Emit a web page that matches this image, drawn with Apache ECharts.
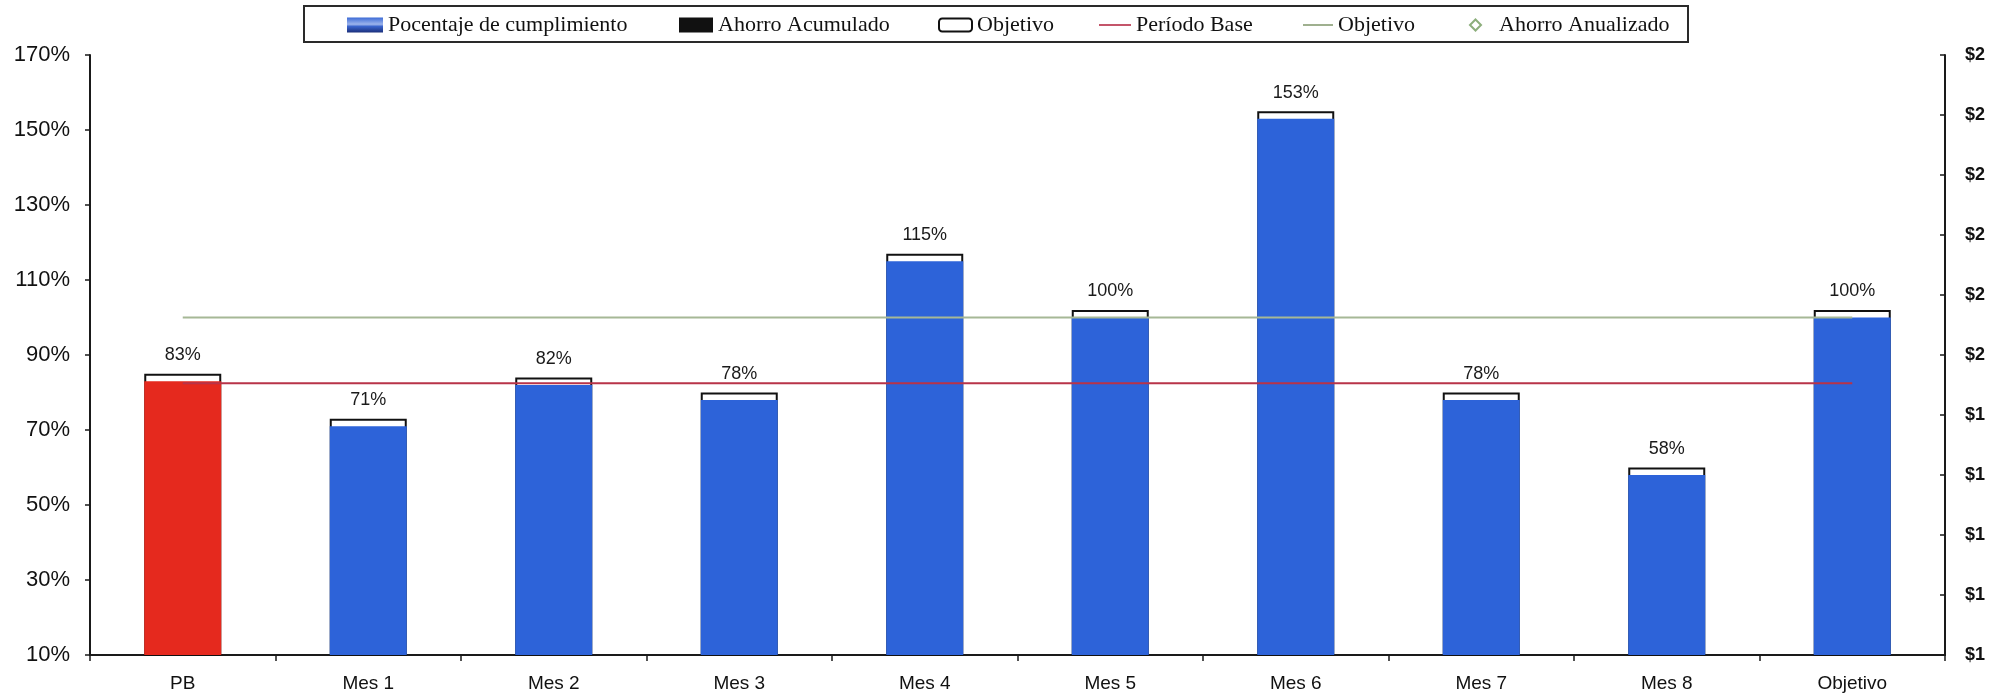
<!DOCTYPE html>
<html>
<head>
<meta charset="utf-8">
<title>Pocentaje de cumplimiento</title>
<script src="https://cdn.jsdelivr.net/npm/echarts@6/dist/echarts.min.js"></script>
<style>
  html, body { margin: 0; padding: 0; background: #ffffff; }
  #chart { width: 2004px; height: 696px; }
</style>
</head>
<body>
<div id="chart"></div>
<script>
// Categories along the x axis
const categories = ['PB', 'Mes 1', 'Mes 2', 'Mes 3', 'Mes 4', 'Mes 5', 'Mes 6', 'Mes 7', 'Mes 8', 'Objetivo'];

// Compliance percentage per period (bar values, also the printed labels)
const cumplimiento = [83, 71, 82, 78, 115, 100, 153, 78, 58, 100];

// Outlined target box drawn behind each bar
const objetivoCaja = [85, 73, 84, 80, 117, 102, 155, 80, 60, 102];

// Reference lines
const periodoBase = [82.5, 82.5, 82.5, 82.5, 82.5, 82.5, 82.5, 82.5, 82.5, 82.5];
const objetivoLinea = [100, 100, 100, 100, 100, 100, 100, 100, 100, 100];

// Savings series (no points in this period)
const ahorroAcumulado = [];
const ahorroAnualizado = [];

// Left axis range (percent) and right axis range (currency)
const pctAxis = { min: 10, max: 170, step: 20 };
const moneyAxis = { min: 1, max: 2, step: 0.1 };

const sans = 'Liberation Sans, Arial, sans-serif';
const serif = 'Liberation Serif, Times New Roman, serif';
const blue = '#2d63d9';
const red = '#e5291e';

const chart = echarts.init(document.getElementById('chart'), null, { renderer: 'canvas' });

const legendText = { fontFamily: serif, fontSize: 22, color: '#111' };
function legendAt(left, item, w, h, extra) {
  return Object.assign({
    left: left, top: 14, orient: 'horizontal', padding: 0,
    itemWidth: w, itemHeight: h, itemGap: 0,
    textStyle: legendText,
    data: [item],
    selectedMode: false
  }, extra || {});
}

chart.setOption({
  backgroundColor: '#ffffff',
  animation: false,
  graphic: [{
    type: 'rect',
    shape: { x: 304, y: 6, width: 1384, height: 36 },
    style: { fill: 'none', stroke: '#2a2a2a', lineWidth: 2 },
    z: 100
  }],
  legend: [
    legendAt(347, {
      name: 'Pocentaje de cumplimiento',
      icon: 'rect',
      itemStyle: {
        color: new echarts.graphic.LinearGradient(0, 0, 0, 1, [
          { offset: 0, color: '#3c6bd6' },
          { offset: 0.45, color: '#9db4ec' },
          { offset: 0.6, color: '#3a64cc' },
          { offset: 1, color: '#1b2f7a' }
        ]),
        borderWidth: 0
      }
    }, 36, 15),
    legendAt(679, { name: 'Ahorro Acumulado', icon: 'rect' }, 34, 15),
    legendAt(938, {
      name: 'Objetivo', icon: 'roundRect',
      itemStyle: { color: '#ffffff', borderColor: '#111', borderWidth: 2 }
    }, 33, 13),
    legendAt(1099, { name: 'Período Base', icon: 'rect', itemStyle: { color: '#c4556a' } }, 32, 2),
    legendAt(1303, { name: 'Objetivo ', icon: 'rect', itemStyle: { color: '#9fb08f' } }, 30, 2, {
      formatter: function (n) { return n.trim(); }
    }),
    legendAt(1469, { name: 'Ahorro Anualizado', icon: 'emptyDiamond' }, 11, 11, {
      textStyle: Object.assign({}, legendText, { padding: [0, 0, 0, 13] })
    })
  ],
  grid: { left: 90, right: 59, top: 55, bottom: 41, containLabel: false },
  xAxis: {
    type: 'category',
    data: categories,
    boundaryGap: true,
    axisLine: { show: true, lineStyle: { color: '#1a1a1a', width: 2 } },
    axisTick: { show: true, inside: false, length: 6, lineStyle: { color: '#1a1a1a', width: 1.5 } },
    axisLabel: { fontFamily: sans, fontSize: 19, color: '#111', margin: 19 },
    splitLine: { show: false }
  },
  yAxis: [{
    type: 'value',
    position: 'left',
    min: pctAxis.min, max: pctAxis.max, interval: pctAxis.step,
    axisLine: { show: true, lineStyle: { color: '#1a1a1a', width: 2 } },
    axisTick: { show: true, inside: false, length: 5, lineStyle: { color: '#1a1a1a', width: 1.5 } },
    axisLabel: { fontFamily: sans, fontSize: 22, color: '#111', margin: 20, formatter: '{value}%' },
    splitLine: { show: false }
  }, {
    type: 'value',
    position: 'right',
    min: moneyAxis.min, max: moneyAxis.max, interval: moneyAxis.step,
    axisLine: { show: true, lineStyle: { color: '#1a1a1a', width: 2 } },
    axisTick: { show: true, inside: true, length: 5, lineStyle: { color: '#1a1a1a', width: 1.5 } },
    axisLabel: {
      fontFamily: sans, fontSize: 18, fontWeight: 'bold', color: '#111', margin: 20,
      formatter: function (v) { return '$' + Math.round(v); }
    },
    splitLine: { show: false }
  }],
  series: [
    {
      name: 'Objetivo',
      type: 'bar',
      data: objetivoCaja,
      barWidth: 77,
      barGap: '-100%',
      itemStyle: { color: '#ffffff', borderColor: '#111', borderWidth: 2 },
      silent: true,
      z: 2
    },
    {
      name: 'Pocentaje de cumplimiento',
      type: 'bar',
      data: cumplimiento.map(function (v, i) {
        return i === 0 ? { value: v, itemStyle: { color: red } } : v;
      }),
      barWidth: 77,
      barGap: '-100%',
      itemStyle: { color: blue },
      label: {
        show: true, position: 'top', distance: 17,
        fontFamily: sans, fontSize: 18, color: '#1a1a1a',
        formatter: '{c}%'
      },
      z: 3
    },
    {
      name: 'Ahorro Acumulado',
      type: 'bar',
      yAxisIndex: 1,
      data: ahorroAcumulado,
      barWidth: 77,
      barGap: '-100%',
      itemStyle: { color: '#111' }
    },
    {
      name: 'Período Base',
      type: 'line',
      data: periodoBase,
      symbol: 'none',
      lineStyle: { color: '#b83348', width: 2 },
      itemStyle: { color: '#c4556a' },
      z: 5
    },
    {
      name: 'Objetivo ',
      type: 'line',
      data: objetivoLinea,
      symbol: 'none',
      lineStyle: { color: '#a6b896', width: 2 },
      itemStyle: { color: '#8fa483' },
      z: 5
    },
    {
      name: 'Ahorro Anualizado',
      type: 'scatter',
      yAxisIndex: 1,
      data: ahorroAnualizado,
      symbol: 'emptyDiamond',
      symbolSize: 10,
      itemStyle: { color: '#6f9a5a', borderColor: '#6f9a5a', borderWidth: 1.5 }
    }
  ]
});
</script>
</body>
</html>
